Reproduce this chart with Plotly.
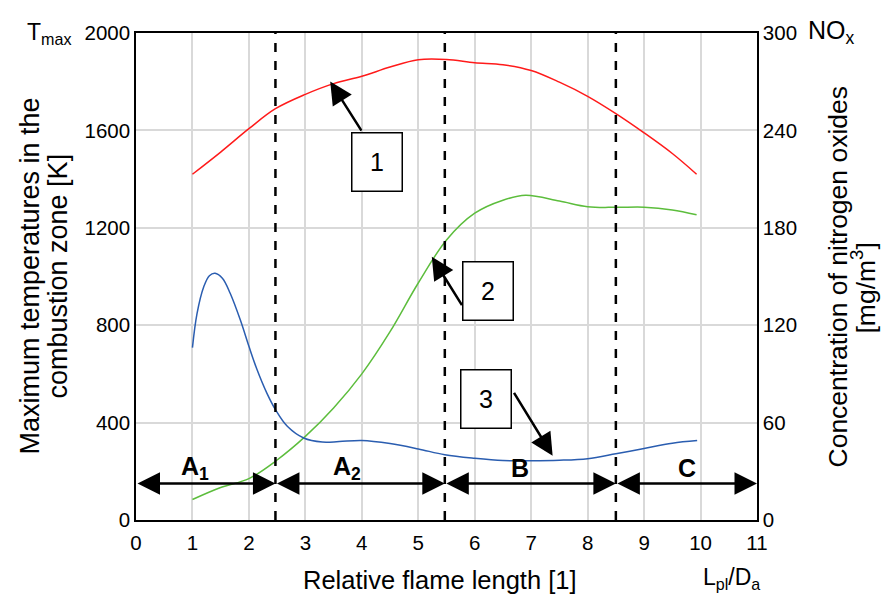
import plotly.graph_objects as go

# Relative flame length L_pl/D_a
x_temp = [1.0, 1.5, 2.0, 2.47, 3.0, 3.5, 4.0, 4.5, 5.0, 5.5, 6.0, 6.5, 7.0, 7.5, 8.0, 8.5, 9.0, 9.5, 9.93]
# Curve 1: maximum temperature in the combustion zone [K]
t_max = [1420, 1511, 1607, 1689, 1748, 1792, 1822, 1860, 1890, 1891, 1878, 1870, 1846, 1798, 1740, 1669, 1590, 1505, 1420]

x_nox2 = [1.0, 1.5, 2.0, 2.47, 3.0, 3.5, 4.0, 4.5, 5.0, 5.5, 6.0, 6.5, 6.9, 7.5, 8.0, 8.5, 9.0, 9.5, 9.93]
# Curve 2: NOx concentration [mg/m3]
nox2 = [12.6, 20.0, 25.5, 36.2, 51.5, 69, 90, 116, 146, 172.5, 189, 197, 200, 196.5, 193, 192.6, 192.7, 191, 188]

x_nox3 = [1.0, 1.08, 1.2, 1.3, 1.4, 1.53, 1.67, 1.85, 2.0, 2.14, 2.32, 2.47, 2.68, 2.97, 3.3, 3.6, 4.0, 4.5, 5.0,
          5.47, 6.0, 6.5, 7.0, 7.5, 8.0, 8.5, 9.0, 9.5, 9.94]
# Curve 3: NOx concentration [mg/m3]
nox3 = [106.2, 127, 143.7, 150.5, 152, 148.9, 139.5, 123, 107, 93, 78, 68, 57.7, 50.5, 48, 48.3, 49, 47.1, 43.8,
        40.2, 38, 36.6, 36.5, 36.8, 37.8, 40.8, 44.1, 47.3, 48.9]

# Zone boundaries and zone names
zone_bounds = [0, 2.47, 5.47, 8.5, 11]
zone_names = ["A<sub>1</sub>", "A<sub>2</sub>", "B", "C"]
zone_label_x = [1.05, 3.74, 6.8, 9.76]
zone_arrow_t = 150
zone_label_t = 215

# Curve number boxes: (label, box centre x, box centre T, arrow tail x, tail T, head x, head T)
callouts = [
    ("1", 4.27, 1469, 4.01, 1593, 3.44, 1801),
    ("2", 6.24, 941, 5.79, 876, 5.24, 1081),
    ("3", 6.20, 496, 6.68, 528, 7.38, 264),
]

# Axis title lines (each drawn separately for tight line spacing)
left_title = ["Maximum temperatures in the", "combustion zone [K]"]
right_title = ["Concentration of nitrogen oxides", "[mg/m<sup>3</sup>]"]

FONT = "Liberation Sans, Arial, sans-serif"

fig = go.Figure()
fig.add_trace(go.Scatter(x=x_temp, y=t_max, mode="lines", line=dict(color="#ff1a1a", width=1.5, shape="spline"),
                         yaxis="y", showlegend=False))
fig.add_trace(go.Scatter(x=x_nox2, y=nox2, mode="lines", line=dict(color="#5cbd3c", width=1.5, shape="spline"),
                         yaxis="y2", showlegend=False))
fig.add_trace(go.Scatter(x=x_nox3, y=nox3, mode="lines", line=dict(color="#2a5db0", width=1.5, shape="spline"),
                         yaxis="y2", showlegend=False))

# Dashed zone boundaries
for b in zone_bounds[1:-1]:
    fig.add_shape(type="line", x0=b, x1=b, y0=0, y1=2000, xref="x", yref="y",
                  line=dict(color="black", width=2.5, dash="dash"), layer="above")

annotations = []
# Double-headed zone arrows
for i in range(len(zone_names)):
    annotations.append(dict(x=zone_bounds[i + 1], y=zone_arrow_t, ax=zone_bounds[i], ay=zone_arrow_t,
                            xref="x", yref="y", axref="x", ayref="y", text="", showarrow=True,
                            arrowhead=2, startarrowhead=2, arrowside="end+start", arrowsize=1.8,
                            startarrowsize=1.8, arrowwidth=2.5, arrowcolor="black", standoff=0, startstandoff=0))
    annotations.append(dict(x=zone_label_x[i], y=zone_label_t, xref="x", yref="y", text="<b>" + zone_names[i] + "</b>",
                            showarrow=False, font=dict(family=FONT, size=25, color="black")))

for label, bx, bt, tx, tt, hx, ht in callouts:
    annotations.append(dict(x=hx, y=ht, ax=tx, ay=tt, xref="x", yref="y", axref="x", ayref="y", text="",
                            showarrow=True, arrowhead=2, arrowsize=1.8, arrowwidth=2.5, arrowcolor="black",
                            standoff=0))
    annotations.append(dict(x=bx, y=bt, xref="x", yref="y", text=label, showarrow=False,
                            font=dict(family=FONT, size=25, color="black"), width=49, height=57,
                            bordercolor="black", borderwidth=1.5, borderpad=0, bgcolor="white"))

# Rotated axis titles
for text, shift in zip(left_title, [-107, -79]):
    annotations.append(dict(x=0, y=0.5, xref="paper", yref="paper", xshift=shift, text=text, textangle=-90,
                            showarrow=False, font=dict(family=FONT, size=27, color="black"),
                            xanchor="center", yanchor="middle"))
for text, shift, ys in zip(right_title, [80, 106], [0, -12]):
    annotations.append(dict(x=1, y=0.5, xref="paper", yref="paper", xshift=shift, yshift=ys, text=text, textangle=-90,
                            showarrow=False, font=dict(family=FONT, size=26.5, color="black"),
                            xanchor="center", yanchor="middle"))

# Horizontal axis title and corner symbols
annotations += [
    dict(x=0.49, y=0, xref="paper", yref="paper", yshift=-60, text="Relative flame length [1]",
         showarrow=False, font=dict(family=FONT, size=25.5, color="black"), xanchor="center", yanchor="middle"),
    dict(x=1, y=0, xref="paper", yref="paper", xshift=-26, yshift=-58, text="L<sub>pl</sub>/D<sub>a</sub>",
         showarrow=False, font=dict(family=FONT, size=23, color="black"), xanchor="center", yanchor="middle"),
    dict(x=0, y=1, xref="paper", yref="paper", xshift=-87, yshift=0, text="T<sub>max</sub>",
         showarrow=False, font=dict(family=FONT, size=23, color="black"), xanchor="center", yanchor="middle"),
    dict(x=1, y=1, xref="paper", yref="paper", xshift=74, yshift=1, text="NO<sub>x</sub>",
         showarrow=False, font=dict(family=FONT, size=25, color="black"), xanchor="center", yanchor="middle"),
]

fig.update_layout(
    width=884, height=596,
    margin=dict(l=135.5, r=127, t=32.5, b=75.5),
    paper_bgcolor="white", plot_bgcolor="white",
    font=dict(family=FONT, size=20.5, color="black"),
    xaxis=dict(range=[0, 11], dtick=1, tick0=0, showgrid=True, gridcolor="#d9d9d9", gridwidth=1.5,
               showline=True, linecolor="black", linewidth=1.5, mirror=True, ticks="", zeroline=False,
               ticklabelstandoff=4, tickfont=dict(size=20.5)),
    yaxis=dict(range=[0, 2000], dtick=400, tick0=0, showgrid=True, gridcolor="#d9d9d9", gridwidth=1.5,
               showline=True, linecolor="black", linewidth=1.5, mirror=True, ticks="", zeroline=False,
               ticklabelstandoff=0, tickfont=dict(size=20.5)),
    yaxis2=dict(range=[0, 300], dtick=60, tick0=0, overlaying="y", side="right", showgrid=False,
                showline=True, linecolor="black", linewidth=1.5, ticks="", zeroline=False,
                ticklabelstandoff=0, tickfont=dict(size=20.5)),
    annotations=annotations,
)

fig.write_html("out.html")
